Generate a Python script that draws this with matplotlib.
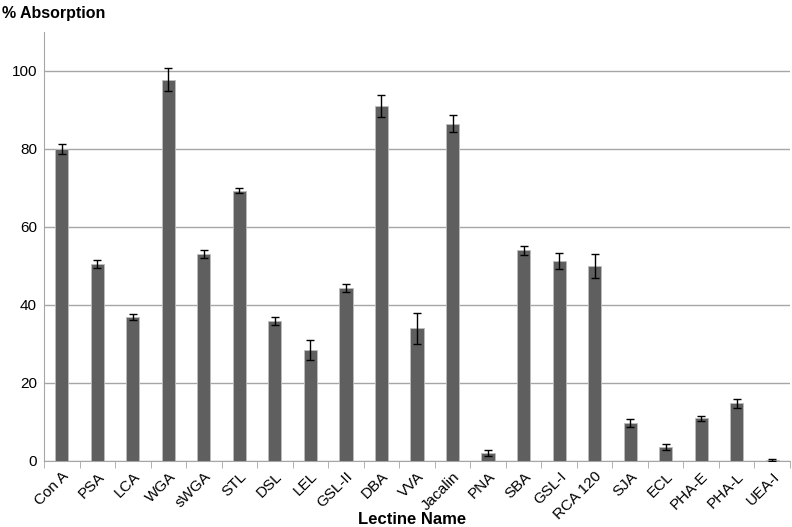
import numpy as np
import matplotlib.pyplot as plt

plt.rcParams['font.family'] = ['Liberation Sans', 'DejaVu Sans']

# lectins and their absorption values
lectins = ["Con A", "PSA", "LCA", "WGA", "sWGA", "STL", "DSL", "LEL", "GSL-II", "DBA",
           "VVA", "Jacalin", "PNA", "SBA", "GSL-I", "RCA 120", "SJA", "ECL", "PHA-E",
           "PHA-L", "UEA-I"]
absorption = [80.0, 50.5, 37.0, 97.8, 53.0, 69.3, 36.0, 28.5, 44.3, 91.0,
              34.0, 86.5, 2.0, 54.0, 51.3, 50.0, 9.8, 3.6, 10.9, 14.8, 0.3]
errors = [1.2, 1.0, 0.8, 3.0, 1.0, 0.6, 1.0, 2.5, 1.0, 2.8,
          4.0, 2.2, 0.8, 1.2, 2.0, 3.0, 1.0, 0.8, 0.7, 1.2, 0.3]

fig = plt.figure(figsize=(7.92, 5.27), dpi=100)
ax = fig.add_axes([44 / 792, 66 / 527, 746 / 792, 429 / 527])

x = np.arange(len(lectins))
ax.bar(x, absorption, width=0.37, color='#5f5f5f', edgecolor='#bdbdbd', linewidth=0.6, zorder=3)
ax.errorbar(x, absorption, yerr=errors, fmt='none', ecolor='black', elinewidth=1,
            capsize=3, capthick=1, zorder=4)

ax.set_xlim(-0.5, len(lectins) - 0.5)
ax.set_ylim(0, 110)
ax.set_yticks([0, 20, 40, 60, 80, 100])
ax.yaxis.grid(True, color='#a6a6a6', linewidth=1, zorder=0)
ax.tick_params(axis='y', length=0, labelsize=11, pad=5)

ax.set_xticks(x)
ax.set_xticklabels(lectins, rotation=45, ha='right', rotation_mode='anchor', fontsize=11)
ax.tick_params(axis='x', which='major', length=0, pad=6)
ax.set_xticks(np.arange(-0.5, len(lectins)), minor=True)
ax.tick_params(axis='x', which='minor', length=5, color='#a6a6a6', direction='out')

for side in ['top', 'right']:
    ax.spines[side].set_visible(False)
ax.spines['left'].set_color('#a6a6a6')
ax.spines['bottom'].set_color('#a6a6a6')

fig.text(0.003, 0.988, "% Absorption", fontsize=11.5, fontweight='bold', ha='left', va='top')
fig.text(412 / 792, 0.0, "Lectine Name", fontsize=12, fontweight='bold', ha='center', va='bottom')

fig.savefig("out.png", dpi=100)
